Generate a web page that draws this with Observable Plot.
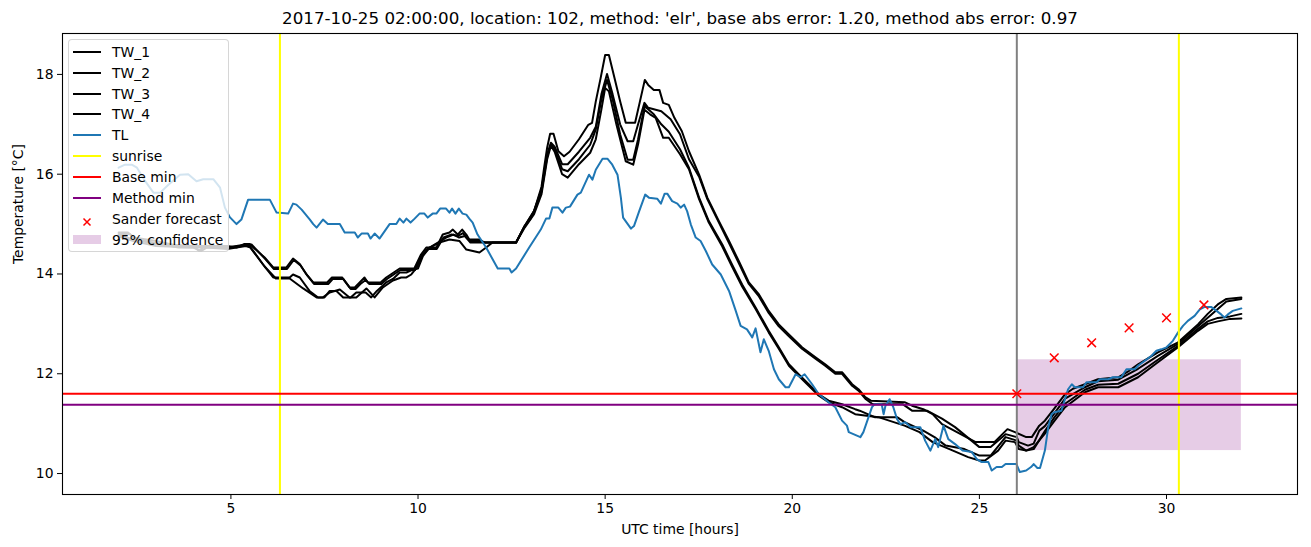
<!DOCTYPE html>
<html>
<head>
<meta charset="utf-8">
<script src="https://cdn.jsdelivr.net/npm/d3@7"></script>
<script src="https://cdn.jsdelivr.net/npm/@observablehq/plot@0.6"></script>
<style>
  html, body { margin: 0; padding: 0; background: white; }
  #wrap { position: relative; width: 1311px; height: 547px; font-family: "DejaVu Sans", sans-serif; }
  #legend { position: absolute; left: 68px; top: 39px; width: 161px; height: 213px;
    background: rgba(255,255,255,0.8); border: 1px solid rgba(204,204,204,0.8); border-radius: 4px; box-sizing: border-box; }
  .lg-item { position: absolute; font-size: 13.9px; color: black; white-space: nowrap; }
</style>
</head>
<body>
<div id="wrap"></div>
<script>
// ---- data ----
const titleText = "2017-10-25 02:00:00, location: 102, method: 'elr', base abs error: 1.20, method abs error: 0.97";
const xLabel = "UTC time [hours]";
const yLabel = "Temperature [°C]";
const xTicks = [5, 10, 15, 20, 25, 30];
const yTicks = [10, 12, 14, 16, 18];

const TW_1 = [[2.0,14.83],[2.25,14.83],[2.4,14.73],[3.0,14.66],[3.6,14.56],[4.9,14.56],[5.15,14.53],[5.35,14.6],[5.5,14.6],[5.9,14.33],[6.13,14.13],[6.48,14.13],[6.66,14.31],[6.84,14.2],[7.02,13.99],[7.2,13.83],[7.57,13.83],[7.7,13.93],[7.97,13.93],[8.17,13.73],[8.31,13.73],[8.44,13.83],[8.57,13.93],[8.66,13.83],[9.0,13.83],[9.15,13.93],[9.35,14.03],[9.51,14.11],[9.9,14.11],[10.08,14.39],[10.22,14.53],[10.49,14.53],[10.66,14.79],[10.84,14.83],[10.93,14.89],[11.06,14.79],[11.18,14.89],[11.29,14.79],[11.37,14.69],[11.64,14.69],[11.77,14.63],[12.62,14.63],[12.85,14.96],[13.0,15.1],[13.1,15.26],[13.2,15.5],[13.3,15.75],[13.37,16.13],[13.45,16.53],[13.53,16.81],[13.62,16.81],[13.75,16.46],[13.9,16.36],[14.05,16.45],[14.3,16.7],[14.55,16.99],[14.65,17.03],[14.75,17.46],[14.88,17.93],[15.0,18.39],[15.1,18.39],[15.25,17.93],[15.4,17.46],[15.55,17.03],[15.8,17.03],[15.93,17.46],[16.06,17.89],[16.15,17.79],[16.3,17.69],[16.45,17.69],[16.55,17.43],[16.7,17.39],[16.85,17.13],[17.05,16.86],[17.24,16.46],[17.51,15.99],[17.73,15.53],[18.04,15.06],[18.31,14.66],[18.57,14.26],[18.84,13.83],[19.11,13.59],[19.37,13.26],[19.64,12.99],[19.91,12.79],[20.26,12.53],[20.44,12.43],[20.62,12.33],[20.88,12.19],[21.15,12.03],[21.33,12.03],[21.6,11.79],[21.77,11.69],[21.95,11.53],[22.1,11.46],[23.0,11.43],[23.2,11.36],[23.5,11.29],[23.75,11.19],[24.0,10.99],[24.4,10.83],[24.9,10.63],[25.4,10.63],[25.75,10.89],[25.95,10.83],[26.25,10.73],[26.4,10.73],[26.6,10.96],[26.75,11.06],[27.0,11.3],[27.29,11.59],[27.5,11.7],[27.82,11.79],[28.17,11.89],[28.71,11.93],[29.0,12.06],[29.24,12.19],[29.77,12.43],[30.31,12.63],[30.84,12.99],[31.1,13.2],[31.37,13.39],[31.6,13.5],[32.0,13.53]];

const TW_2 = [[2.0,14.8],[2.3,14.8],[2.45,14.7],[3.1,14.6],[3.6,14.53],[4.9,14.53],[5.3,14.56],[5.45,14.59],[5.55,14.59],[5.92,14.3],[6.15,14.1],[6.5,14.1],[6.68,14.28],[6.86,14.17],[7.05,13.96],[7.22,13.8],[7.6,13.8],[7.72,13.9],[8.0,13.9],[8.2,13.7],[8.33,13.7],[8.46,13.8],[8.6,13.88],[8.7,13.8],[9.02,13.8],[9.17,13.9],[9.37,14.0],[9.53,14.08],[9.92,14.08],[10.1,14.36],[10.25,14.5],[10.5,14.5],[10.68,14.73],[10.9,14.79],[11.06,14.76],[11.2,14.82],[11.3,14.73],[11.4,14.66],[11.66,14.66],[11.8,14.63],[12.62,14.63],[12.85,14.96],[13.1,15.26],[13.3,15.7],[13.45,16.4],[13.55,16.63],[13.65,16.55],[13.85,16.2],[14.0,16.2],[14.3,16.45],[14.6,16.73],[14.75,16.95],[14.9,17.6],[15.05,18.01],[15.2,17.6],[15.4,17.0],[15.6,16.66],[15.75,16.66],[15.88,17.0],[16.05,17.43],[16.15,17.33],[16.3,17.3],[16.5,17.26],[16.75,17.1],[17.0,16.8],[17.24,16.3],[17.51,15.95],[17.73,15.5],[18.04,15.03],[18.31,14.62],[18.57,14.22],[18.84,13.8],[19.11,13.55],[19.37,13.22],[19.64,12.95],[19.91,12.75],[20.26,12.5],[20.62,12.3],[20.88,12.16],[21.15,12.0],[21.33,12.0],[21.6,11.76],[21.77,11.66],[21.95,11.5],[22.15,11.39],[22.95,11.39],[23.2,11.26],[23.6,11.26],[24.0,11.1],[24.35,10.93],[25.0,10.53],[25.3,10.53],[25.7,10.79],[26.0,10.73],[26.05,10.63],[26.3,10.56],[26.45,10.6],[26.6,10.86],[26.75,10.95],[27.0,11.2],[27.29,11.5],[27.82,11.73],[28.17,11.85],[28.71,11.88],[29.24,12.1],[29.77,12.36],[30.31,12.6],[30.84,12.95],[31.37,13.3],[31.6,13.45],[32.0,13.5]];

const TW_3 = [[2.0,14.78],[2.35,14.7],[3.0,14.6],[4.0,14.56],[4.15,14.46],[4.3,14.56],[4.9,14.53],[5.4,14.59],[5.5,14.56],[5.85,14.2],[6.13,13.93],[6.57,13.93],[6.66,13.99],[6.84,13.93],[7.1,13.66],[7.33,13.53],[7.5,13.53],[7.64,13.66],[7.82,13.66],[8.0,13.53],[8.2,13.53],[8.35,13.63],[8.6,13.63],[8.75,13.53],[8.9,13.66],[9.15,13.83],[9.33,13.9],[9.51,14.03],[9.69,14.03],[9.86,14.09],[10.0,14.11],[10.13,14.36],[10.31,14.53],[10.53,14.63],[10.75,14.73],[10.95,14.79],[11.1,14.73],[11.25,14.76],[11.4,14.63],[12.62,14.63],[12.85,14.96],[13.1,15.26],[13.3,15.65],[13.45,16.35],[13.55,16.6],[13.65,16.5],[13.85,16.1],[14.0,16.06],[14.3,16.3],[14.6,16.59],[14.75,16.9],[14.9,17.5],[15.05,17.89],[15.2,17.5],[15.4,16.8],[15.6,16.29],[15.75,16.29],[15.88,16.7],[16.05,17.36],[16.15,17.3],[16.3,17.2],[16.5,17.0],[16.7,16.85],[17.0,16.5],[17.24,16.13],[17.51,15.53],[17.77,15.06],[18.13,14.59],[18.39,14.19],[18.66,13.79],[19.02,13.33],[19.37,12.86],[19.64,12.53],[19.91,12.19],[20.17,11.99],[20.44,11.79],[20.71,11.59],[20.97,11.46],[21.33,11.39],[21.68,11.29],[21.8,11.26],[22.2,11.13],[22.8,11.13],[23.0,11.03],[23.5,10.86],[23.8,10.73],[24.1,10.56],[24.6,10.49],[25.0,10.36],[25.3,10.36],[25.7,10.73],[26.0,10.66],[26.05,10.56],[26.25,10.46],[26.45,10.49],[26.75,10.85],[27.0,11.12],[27.29,11.4],[27.82,11.68],[28.17,11.78],[28.71,11.8],[29.24,12.0],[29.77,12.28],[30.31,12.56],[30.84,12.9],[31.1,13.05],[31.37,13.12],[31.7,13.15],[32.0,13.2]];

const TW_4 = [[2.0,14.75],[2.4,14.66],[3.0,14.56],[4.0,14.53],[4.2,14.46],[4.35,14.53],[4.9,14.5],[5.4,14.56],[5.52,14.53],[5.9,14.15],[6.2,13.91],[6.57,13.91],[6.93,13.71],[7.29,13.53],[7.46,13.53],[7.64,13.63],[7.91,13.69],[8.17,13.53],[8.35,13.53],[8.62,13.71],[8.84,13.53],[9.06,13.73],[9.33,13.87],[9.55,13.93],[9.69,13.93],[9.82,13.99],[9.95,14.11],[10.13,14.39],[10.31,14.53],[10.57,14.63],[10.84,14.69],[11.11,14.66],[11.29,14.49],[11.64,14.43],[11.82,14.53],[11.99,14.63],[12.62,14.63],[12.85,14.93],[13.1,15.2],[13.3,15.6],[13.45,16.3],[13.55,16.57],[13.65,16.45],[13.85,16.0],[14.0,15.93],[14.3,16.2],[14.6,16.43],[14.75,16.7],[14.9,17.3],[15.0,17.73],[15.1,17.66],[15.3,17.0],[15.55,16.26],[15.75,16.19],[15.88,16.6],[16.05,17.29],[16.2,17.2],[16.35,17.13],[16.55,16.73],[16.7,16.73],[17.0,16.4],[17.24,16.1],[17.51,15.5],[17.77,15.03],[18.13,14.55],[18.39,14.15],[18.66,13.75],[19.02,13.3],[19.37,12.83],[19.64,12.5],[19.91,12.16],[20.17,11.96],[20.44,11.76],[20.71,11.56],[20.97,11.43],[21.33,11.33],[21.68,11.19],[22.3,11.13],[23.0,10.96],[23.4,10.83],[23.75,10.63],[24.2,10.49],[24.7,10.33],[25.0,10.26],[25.15,10.26],[25.5,10.46],[25.7,10.66],[25.95,10.63],[26.05,10.49],[26.25,10.46],[26.45,10.53],[26.75,10.8],[27.0,11.05],[27.29,11.33],[27.82,11.63],[28.17,11.73],[28.71,11.73],[29.24,11.93],[29.77,12.23],[30.31,12.53],[30.84,12.86],[31.1,13.0],[31.37,13.05],[31.7,13.1],[32.0,13.11]];

const TL = [[2.0,16.13],[2.17,16.19],[2.35,16.19],[2.49,16.13],[2.71,15.86],[2.93,15.63],[3.11,15.63],[3.33,15.79],[3.64,15.99],[3.86,16.0],[4.08,15.86],[4.26,15.9],[4.53,15.9],[4.71,15.73],[4.84,15.33],[4.97,15.14],[5.15,15.0],[5.28,15.09],[5.46,15.49],[6.04,15.49],[6.22,15.23],[6.53,15.21],[6.66,15.41],[6.75,15.39],[6.89,15.29],[7.11,15.09],[7.2,15.0],[7.29,14.93],[7.46,15.09],[7.59,15.0],[7.91,15.0],[8.04,14.83],[8.31,14.83],[8.39,14.73],[8.49,14.81],[8.66,14.81],[8.73,14.71],[8.84,14.81],[8.97,14.71],[9.24,15.0],[9.42,15.0],[9.51,15.11],[9.61,15.03],[9.69,15.11],[9.8,15.03],[9.91,15.11],[10.04,15.21],[10.17,15.21],[10.26,15.13],[10.39,15.21],[10.49,15.21],[10.59,15.31],[10.75,15.31],[10.84,15.23],[10.91,15.31],[11.0,15.21],[11.09,15.31],[11.19,15.21],[11.29,15.19],[11.37,15.11],[11.46,15.03],[11.59,14.79],[11.82,14.53],[12.13,14.11],[12.44,14.11],[12.5,14.03],[12.62,14.11],[12.97,14.53],[13.28,14.89],[13.42,15.11],[13.51,15.11],[13.59,15.33],[13.75,15.33],[13.86,15.23],[13.95,15.33],[14.06,15.35],[14.26,15.59],[14.35,15.63],[14.57,15.99],[14.66,15.89],[14.75,16.09],[14.93,16.31],[15.06,16.31],[15.19,16.19],[15.33,15.99],[15.42,15.53],[15.48,15.13],[15.69,14.91],[15.77,14.96],[15.91,15.26],[16.07,15.59],[16.17,15.53],[16.39,15.51],[16.49,15.41],[16.59,15.61],[16.66,15.61],[16.79,15.46],[16.93,15.41],[17.02,15.33],[17.11,15.39],[17.19,15.26],[17.29,14.99],[17.42,14.73],[17.55,14.66],[17.69,14.46],[17.86,14.19],[18.09,13.99],[18.31,13.66],[18.49,13.26],[18.62,12.96],[18.79,12.89],[18.93,12.73],[19.02,12.91],[19.15,12.43],[19.24,12.69],[19.37,12.46],[19.51,12.09],[19.64,11.89],[19.82,11.73],[19.91,11.73],[20.09,11.99],[20.22,11.93],[20.33,11.99],[20.53,11.79],[20.71,11.59],[20.97,11.43],[21.15,11.33],[21.33,11.06],[21.46,10.96],[21.51,10.83],[21.82,10.73],[21.9,10.83],[22.13,11.33],[22.2,11.39],[22.39,11.39],[22.44,11.19],[22.49,11.36],[22.6,11.49],[22.7,11.33],[22.8,11.09],[22.89,10.99],[23.02,11.03],[23.16,10.93],[23.42,10.93],[23.55,10.66],[23.69,10.46],[23.82,10.69],[23.9,10.53],[24.04,10.96],[24.17,10.69],[24.35,10.59],[24.55,10.46],[24.8,10.43],[24.93,10.29],[25.06,10.23],[25.24,10.23],[25.33,10.06],[25.46,10.13],[25.6,10.13],[25.7,10.19],[25.99,10.19],[26.08,10.03],[26.25,10.06],[26.38,10.13],[26.45,10.19],[26.55,10.11],[26.62,10.11],[26.75,10.46],[26.84,10.93],[26.93,11.19],[27.0,11.23],[27.19,11.26],[27.37,11.69],[27.47,11.79],[27.55,11.73],[27.77,11.73],[27.86,11.83],[28.13,11.83],[28.22,11.89],[28.44,11.89],[28.57,11.93],[28.79,11.93],[28.93,12.09],[29.15,12.09],[29.24,12.16],[29.42,12.26],[29.6,12.36],[29.73,12.46],[29.86,12.49],[30.0,12.53],[30.17,12.66],[30.31,12.83],[30.44,12.96],[30.57,13.06],[30.75,13.16],[30.89,13.29],[31.02,13.34],[31.19,13.34],[31.32,13.27],[31.46,13.19],[31.55,13.13],[31.64,13.19],[31.77,13.26],[32.0,13.31]];

const sunriseHours = [6.31, 30.33];
const forecastHour = [26];
const baseMin = [11.6];
const methodMin = [11.38];
const sanderHours = [26, 27, 28, 29, 30, 31];
const sanderValues = [11.6, 12.32, 12.62, 12.92, 13.12, 13.38];
const confHours = [26, 32];
const confBounds = [10.46, 12.28];

const legendLabels = ["TW_1", "TW_2", "TW_3", "TW_4", "TL", "sunrise", "Base min", "Method min", "Sander forecast", "95% confidence"];
const legendColors = ["black", "black", "black", "black", "#1f77b4", "yellow", "red", "purple", "red", "rgba(128,0,128,0.2)"];

// ---- tables ----
const twRows = [];
[["TW_1", TW_1], ["TW_2", TW_2], ["TW_3", TW_3], ["TW_4", TW_4]].forEach(([name, arr]) => {
  arr.forEach(([x, y]) => twRows.push({series: name, x, y}));
});
const tlRows = TL.map(([x, y]) => ({x, y}));
const sanderRows = sanderHours.map((h, i) => ({x: h, y: sanderValues[i]}));
const confRows = [{x1: confHours[0], x2: confHours[1], y1: confBounds[0], y2: confBounds[1]}];

const chart = Plot.plot({
  width: 1311,
  height: 547,
  marginTop: 33,
  marginLeft: 62,
  marginRight: 14,
  marginBottom: 53,
  x: {domain: [0.5, 33.5]},
  y: {domain: [9.58, 18.82]},
  style: {fontFamily: "DejaVu Sans", fontSize: "13.9px", color: "black", background: "white", overflow: "visible"},
  marks: [
    Plot.rect(confRows, {x1: "x1", x2: "x2", y1: "y1", y2: "y2", fill: "purple", fillOpacity: 0.2}),
    Plot.line(twRows, {x: "x", y: "y", z: "series", stroke: "black", strokeWidth: 2}),
    Plot.line(tlRows, {x: "x", y: "y", stroke: "#1f77b4", strokeWidth: 2}),
    Plot.ruleX(forecastHour, {stroke: "gray", strokeWidth: 2}),
    Plot.ruleX(sunriseHours, {stroke: "yellow", strokeWidth: 2}),
    Plot.ruleY(baseMin, {stroke: "red", strokeWidth: 2}),
    Plot.ruleY(methodMin, {stroke: "purple", strokeWidth: 2}),
    Plot.dot(sanderRows, {x: "x", y: "y", symbol: "times", stroke: "red", r: 4, strokeWidth: 1.5}),
    Plot.frame({stroke: "black", strokeWidth: 1.1}),
    Plot.axisX({ticks: xTicks, tickSize: 5, tickPadding: 4, tickFormat: d => String(d), label: null}),
    Plot.axisY({ticks: yTicks, tickSize: 5, tickPadding: 4, tickFormat: d => String(d), label: null}),
    Plot.text([xLabel], {frameAnchor: "bottom", dy: 35, lineAnchor: "middle", fill: "black"}),
    Plot.text([yLabel], {frameAnchor: "left", dx: -44, rotate: -90, lineAnchor: "middle", fill: "black"}),
    Plot.text([titleText], {frameAnchor: "top", dy: -15, lineAnchor: "middle", fontSize: 16.7, fill: "black"})
  ]
});

const wrap = document.getElementById("wrap");
wrap.appendChild(chart);

// ---- legend overlay ----
const legend = document.createElement("div");
legend.id = "legend";
wrap.appendChild(legend);
legendLabels.forEach((lab, i) => {
  const cy = 51.7 + i * 20.9;
  const handle = document.createElement("div");
  handle.className = "lg-item";
  if (i < 8) {
    handle.style.cssText = `left:73px; top:${cy - 1}px; width:28px; height:2px; background:${legendColors[i]};`;
  } else if (i === 8) {
    handle.style.cssText = `left:82px; top:${cy - 5}px; width:10px; height:10px;`;
    handle.innerHTML = `<svg width="10" height="10"><path d="M1.5,1.5L8.5,8.5M8.5,1.5L1.5,8.5" stroke="red" stroke-width="1.5"/></svg>`;
  } else {
    handle.style.cssText = `left:73px; top:${cy - 4.5}px; width:28px; height:9px; background:${legendColors[i]};`;
  }
  wrap.appendChild(handle);
  const txt = document.createElement("div");
  txt.className = "lg-item";
  txt.textContent = lab;
  txt.style.cssText = `left:112px; top:${cy - 9}px; height:18px; line-height:18px;`;
  wrap.appendChild(txt);
});
</script>
</body>
</html>
